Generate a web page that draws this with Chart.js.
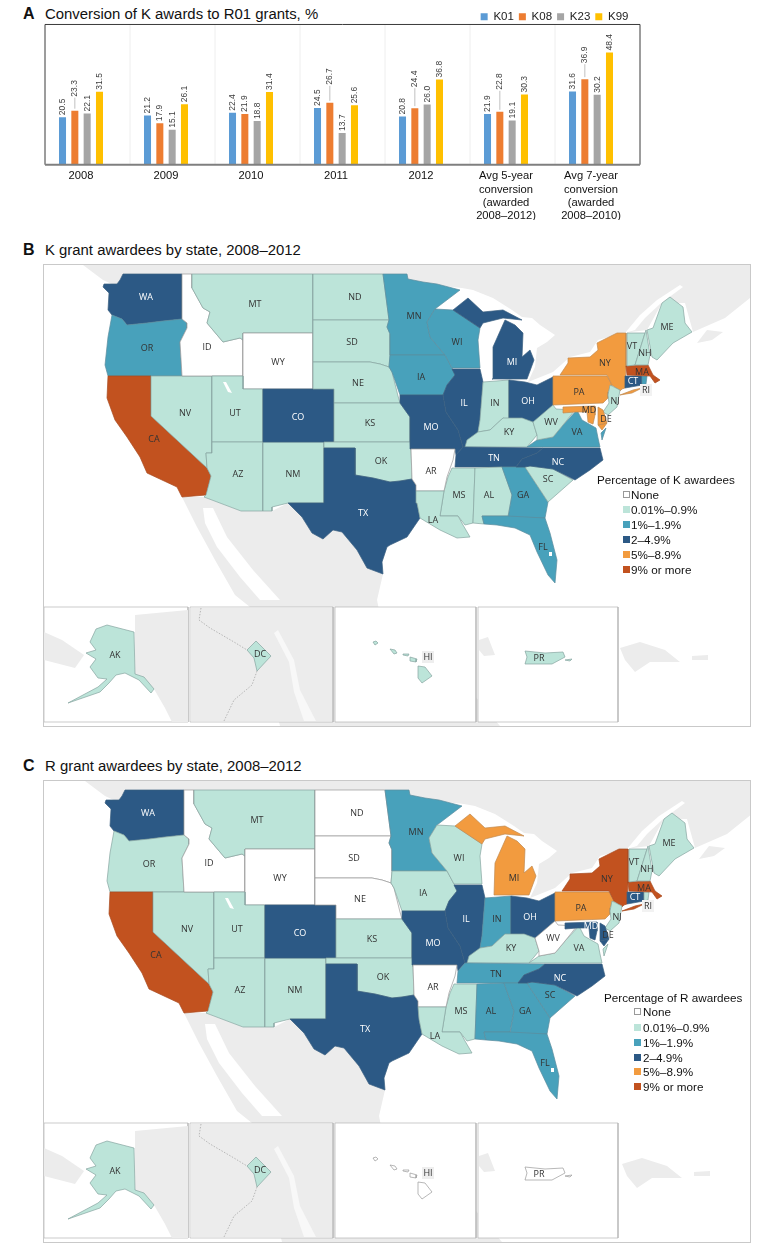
<!DOCTYPE html>
<html>
<head>
<meta charset="utf-8">
<script src="https://cdn.jsdelivr.net/npm/chart.js@4"></script>
<style>
  html, body { margin: 0; background: #fff; }
  #page { position: relative; width: 766px; height: 1251px; overflow: hidden; font-family: "Liberation Sans", sans-serif; color: #111; }
  canvas { position: absolute; }
  .letter { position: absolute; left: 23px; font-weight: bold; font-size: 16px; line-height: 18px; }
  .title { position: absolute; left: 45px; font-size: 14.9px; line-height: 18px; white-space: nowrap; }
  .frame { position: absolute; left: 43px; width: 706px; border: 1.5px solid #c9c9c9; box-sizing: content-box; pointer-events: none; }
  .legend { position: absolute; font-size: 11.7px; line-height: 15px; white-space: nowrap; }
  .legend div { position: absolute; white-space: nowrap; }
  .legend i { position: absolute; width: 7px; height: 7px; box-sizing: border-box; }
</style>
</head>
<body>
<div id="page">
  <div class="letter" style="top:5px">A</div>
  <div class="title" style="top:5px">Conversion of K awards to R01 grants, %</div>
  <canvas id="barChart" width="766" height="226" style="left:0;top:0"></canvas>

  <div class="letter" style="top:241px">B</div>
  <div class="title" style="top:241px">K grant awardees by state, 2008–2012</div>
  <canvas id="mapK" width="706" height="461" style="left:44px;top:265px"></canvas>
  <div class="frame" style="top:264px;height:461px"></div>
  <div class="legend" id="legendK" style="left:597px;top:472px"></div>

  <div class="letter" style="top:757px">C</div>
  <div class="title" style="top:757px">R grant awardees by state, 2008–2012</div>
  <canvas id="mapR" width="706" height="461" style="left:44px;top:781px"></canvas>
  <div class="frame" style="top:780px;height:461px"></div>
  <div class="legend" id="legendR" style="left:604px;top:990px"></div>
</div>

<script>
const categories = ['2008', '2009', '2010', '2011', '2012',
    ['Avg 5-year', 'conversion', '(awarded', '2008–2012)'],
    ['Avg 7-year', 'conversion', '(awarded', '2008–2010)']];
const k01 = [20.5, 21.2, 22.4, 24.5, 20.8, 21.9, 31.6];
const k08 = [23.3, 17.9, 21.9, 26.7, 24.4, 22.8, 36.9];
const k23 = [22.1, 15.1, 18.8, 13.7, 26.0, 19.1, 30.2];
const k99 = [31.5, 26.1, 31.4, 25.6, 36.8, 30.3, 48.4];

const levelNames = ['None', '0.01%–0.9%', '1%–1.9%', '2–4.9%', '5%–8.9%', '9% or more'];
const levelColors = ['#ffffff', '#bce4d9', '#48a1bb', '#2c5985', '#f29b3f', '#c2521f'];
const levelBorders = ['#999999', '#86a5a0', '#5b8c9e', '#3a5f80', '#c08a50', '#a84a20'];

const stateNames = ['WA', 'OR', 'CA', 'NV', 'ID', 'MT', 'WY', 'UT', 'AZ', 'NM', 'CO', 'ND', 'SD', 'NE', 'KS', 'OK', 'TX',
    'MN', 'IA', 'WI', 'MO', 'IL', 'IN', 'MI', 'OH', 'KY', 'TN', 'MS', 'AL', 'GA', 'FL', 'SC', 'NC', 'VA', 'WV', 'AR', 'LA',
    'PA', 'NY', 'NJ', 'CT', 'RI', 'MA', 'VT', 'NH', 'ME', 'MD', 'DE', 'AK', 'DC', 'HI', 'PR'];
const kLevels = [3, 2, 5, 1, 0, 1, 0, 1, 1, 1, 3, 1, 1, 1, 1, 1, 3,
    2, 2, 2, 3, 3, 1, 3, 3, 1, 3, 1, 1, 2, 2, 1, 3, 2, 1, 0, 1,
    4, 4, 1, 3, 2, 5, 1, 1, 1, 4, 4, 1, 1, 1, 1];
const rLevels = [3, 1, 5, 1, 0, 1, 0, 1, 1, 1, 3, 0, 0, 0, 1, 1, 3,
    2, 1, 1, 3, 3, 2, 4, 3, 1, 2, 1, 2, 2, 2, 2, 3, 1, 0, 0, 1,
    4, 5, 1, 3, 1, 5, 1, 1, 1, 3, 3, 1, 1, 0, 0];

// outlines, one list of rings per state
const stateRings = {
    WA: [[[123,274],[182,274],[182,319],[163,321],[147,323],[127,325],[122,319],[112,315],[108,310],[109,293],[103,287],[104,284],[117,284],[120,280]]],
    OR: [[[112,315],[122,319],[127,325],[147,323],[163,321],[182,319],[187,323],[187,328],[180,342],[182,376],[108,376],[105,365],[108,337]]],
    CA: [[[108,376],[151,376],[151,416],[207,468],[211,476],[206,495],[182,497],[177,487],[147,473],[140,457],[127,437],[115,420],[107,398]]],
    NV: [[[151,376],[212,376],[212,453],[206,453],[207,468],[151,416]]],
    ID: [[[182,274],[192,274],[192,288],[203,308],[210,312],[207,323],[223,342],[240,338],[243,340],[243,376],[182,376],[180,342],[187,328],[187,323],[182,319]]],
    MT: [[[192,274],[313,274],[313,333],[243,333],[243,340],[240,338],[223,342],[207,323],[210,312],[203,308],[192,288]]],
    WY: [[[243,333],[313,333],[313,389],[243,389]]],
    UT: [[[212,376],[243,376],[243,389],[263,389],[263,442],[212,442]]],
    AZ: [[[212,442],[263,442],[263,511],[241,511],[204,497],[206,495],[211,476],[207,468],[206,453],[212,453]]],
    NM: [[[263,442],[324,442],[324,503],[288,503],[272,507],[272,511],[263,511]]],
    CO: [[[263,389],[334,389],[334,442],[263,442]]],
    ND: [[[313,274],[383,274],[386,297],[389,320],[313,320]]],
    SD: [[[313,320],[389,320],[387,327],[390,334],[390,355],[389,367],[380,364],[370,362],[313,362]]],
    NE: [[[313,362],[370,362],[380,364],[389,367],[392,372],[398,396],[400,403],[334,403],[334,389],[313,389]]],
    KS: [[[334,403],[400,403],[405,410],[410,417],[410,442],[334,442]]],
    OK: [[[324,442],[410,442],[411,451],[412,479],[400,481],[390,482],[373,478],[355,475],[355,448],[324,448]]],
    TX: [[[324,448],[355,448],[355,475],[373,478],[390,482],[400,481],[412,479],[416,485],[417,503],[420,518],[407,537],[390,545],[387,547],[382,562],[383,574],[367,568],[357,550],[342,532],[333,530],[323,539],[312,533],[302,517],[288,503],[324,503]]],
    MN: [[[383,274],[407,274],[408,279],[423,282],[437,284],[460,290],[435,309],[427,322],[430,337],[445,355],[390,355],[390,334],[387,327],[389,320],[386,297]]],
    IA: [[[390,355],[445,355],[452,368],[455,375],[447,385],[443,395],[400,395],[392,372],[389,367]]],
    WI: [[[435,309],[453,310],[480,328],[478,340],[480,368],[452,368],[445,355],[430,337],[427,322]]],
    MO: [[[400,395],[443,395],[446,412],[458,430],[463,447],[456,455],[455,449],[410,449],[410,417],[405,410],[400,403]]],
    IL: [[[452,369],[480,369],[483,382],[480,420],[478,432],[465,447],[463,447],[458,430],[446,412],[443,395],[447,385],[455,375]]],
    IN: [[[483,382],[509,380],[509,420],[503,418],[490,430],[478,432],[480,420]]],
    MI: [[[492,379],[493,347],[505,320],[515,325],[523,333],[522,357],[530,350],[534,360],[527,379]],
         [[453,310],[468,298],[483,312],[503,310],[522,320],[503,318],[483,323],[480,328]]],
    OH: [[[509,380],[525,382],[537,385],[553,377],[553,405],[533,423],[522,418],[509,420]]],
    KY: [[[465,447],[467,440],[478,432],[490,430],[503,418],[522,418],[533,422],[537,435],[527,447]]],
    TN: [[[456,455],[463,447],[543,448],[537,453],[522,459],[516,467],[455,467]]],
    MS: [[[444,491],[448,477],[452,468],[475,468],[473,523],[465,525],[458,516],[440,516]]],
    AL: [[[475,468],[502,467],[512,495],[508,516],[482,516],[484,524],[473,523]]],
    GA: [[[502,467],[525,467],[548,502],[545,518],[508,518],[512,495]]],
    FL: [[[482,516],[508,516],[545,518],[550,533],[557,560],[555,583],[548,575],[537,552],[530,535],[515,528],[497,525],[484,524]]],
    SC: [[[525,467],[530,466],[553,469],[573,480],[548,502]]],
    NC: [[[543,448],[600,448],[603,460],[590,470],[575,480],[553,469],[530,466],[525,467],[516,467],[522,459],[537,453]]],
    VA: [[[527,447],[537,440],[553,437],[563,425],[577,410],[582,420],[596,428],[598,438],[600,447]],
         [[601,433],[606,428],[602,440]]],
    WV: [[[533,422],[553,405],[556,409],[575,410],[563,425],[553,437],[537,440],[537,435]]],
    AR: [[[411,449],[455,449],[453,460],[447,477],[444,491],[416,491],[416,485],[412,479]]],
    LA: [[[416,491],[444,491],[440,516],[458,516],[463,525],[470,537],[457,538],[440,530],[420,518],[417,503]]],
    PA: [[[553,376],[562,376],[607,376],[612,385],[608,392],[608,398],[603,403],[553,405]]],
    NY: [[[617,333],[626,333],[626,367],[625,388],[622,389],[620,391],[612,385],[607,375],[560,375],[568,363],[568,358],[590,357],[598,350],[597,343]],
         [[620,395],[633,390],[642,388],[632,393]]],
    NJ: [[[610,385],[620,390],[617,407],[608,415],[603,412],[609,403],[608,395]]],
    CT: [[[625,376],[642,376],[642,385],[625,388]]],
    RI: [[[642,376],[647,376],[646,384],[642,385]]],
    MA: [[[626,366],[648,365],[653,375],[660,380],[655,383],[650,376],[627,375]]],
    VT: [[[627,333],[645,333],[635,365],[627,366]]],
    NH: [[[646,330],[650,355],[648,365],[635,365]]],
    ME: [[[647,330],[653,328],[662,303],[670,297],[683,307],[685,323],[692,332],[673,343],[657,360],[652,357]]],
    MD: [[[563,407],[595,406],[595,415],[593,424],[588,422],[587,412],[575,412],[563,413]],
         [[598,425],[607,423],[602,430]]],
    DE: [[[598,407],[603,410],[607,423],[598,425]]],
    AK: [[[107,625],[134,632],[135,674],[144,677],[154,689],[151,693],[139,680],[125,673],[116,675],[109,683],[100,692],[68,703],[98,687],[107,679],[98,678],[90,667],[96,659],[86,653],[96,650],[90,642],[96,629]]],
    DC: [[[256,641],[271,656],[257,671],[254,658],[247,650]]],
    HI: [[[418,666],[425,667],[432,676],[422,683],[418,678]],
         [[410,657],[417,659],[416,662],[410,661]],
         [[390,649],[395,650],[397,653],[394,654]],
         [[373,642],[376,641],[378,643],[375,645]],
         [[403,654],[409,654],[408,656],[403,655]]],
    PR: [[[525,651],[545,653],[563,652],[565,657],[552,664],[525,664],[527,657]],
         [[565,660],[572,659],[570,661]]]
};
const labelX = [146, 147, 154, 185, 207, 255, 278, 235, 238, 293, 298, 355, 352, 358, 370, 381, 363,
    414, 421, 457, 431, 464, 495, 512, 528, 509, 494, 459, 489, 523, 543, 548, 558, 577, 551, 431, 433,
    579, 605, 615, 633, 646, 642, 632, 645, 667, 589, 606, 115, 260, 428, 539];
const labelY = [297, 348, 439, 413, 347, 304, 362, 413, 474, 474, 417, 297, 342, 383, 423, 461, 513,
    316, 377, 342, 427, 403, 403, 362, 401, 432, 458, 495, 495, 495, 547, 479, 462, 432, 422, 471, 520,
    392, 363, 401, 381, 390, 372, 346, 353, 327, 410, 419, 655, 654, 657, 658];

// grey land behind the states, then the water cut out of it
const landRings = [
    [[83,265],[750,265],[750,298],[725,318],[693,332],[685,303],[662,303],[647,330],[623,333],[598,340],[590,352],[570,357],[553,372],[528,382],[535,367],[537,348],[547,342],[555,335],[540,325],[532,318],[522,317],[512,310],[493,298],[473,290],[462,288],[383,280],[120,288],[103,280]],
    [[697,343],[707,330],[723,332],[712,340]],
    [[182,497],[204,497],[241,511],[272,511],[288,503],[302,517],[312,533],[323,539],[333,530],[342,532],[357,550],[367,568],[383,574],[377,600],[385,640],[440,670],[470,690],[500,726],[280,726],[250,607],[235,595],[215,560],[197,527]],
    [[620,648],[640,642],[665,650],[680,662],[650,662],[635,672],[625,660]],
    [[692,656],[708,655],[708,660],[692,660]]
];
const seaRings = [
    [[203,508],[213,508],[227,537],[253,570],[280,600],[260,600],[240,577],[217,547],[205,523]],
    [[625,333],[640,315],[657,300],[680,285],[683,287],[660,304],[645,318],[635,330]]
];
const lakeRings = [
    [[223,382],[226,382],[232,393],[228,392]],
    [[549,552],[552,552],[552,556],[549,556]]
];
// inset boxes and their surroundings
const insetBoxes = [
    [[44,607],[188,607],[188,722],[44,722]],
    [[190,607],[333,607],[333,722],[190,722]],
    [[335,607],[476,607],[476,722],[335,722]],
    [[478,607],[618,607],[618,722],[478,722]]
];
const insetLand = [
    [[135,615],[188,610],[188,722],[172,722],[165,708],[154,689],[135,674]],
    [[44,632],[62,640],[84,655],[75,668],[44,660]],
    [[191,608],[332,608],[332,721],[191,721]],
    [[479,640],[488,637],[495,655],[484,656],[479,650]]
];
const insetWater = [
    [[278,630],[294,660],[300,690],[316,721],[304,721],[294,692],[289,662],[274,633]]
];
const dcBorder = [
    [[201,608],[199,620],[210,628],[234,642],[247,650]],
    [[257,671],[252,685],[234,700],[224,721]]
];

function toPoints(ring) {
    return ring.concat([ring[0]]).map(p => ({x: p[0], y: p[1]}));
}

function ringDataset(ring, color, border, axis) {
    return {
        data: toPoints(ring),
        showLine: true,
        fill: 'shape',
        backgroundColor: color,
        borderColor: border,
        borderWidth: border === 'transparent' ? 0 : 0.7,
        pointRadius: 0,
        pointHoverRadius: 0,
        tension: 0,
        xAxisID: axis,
        yAxisID: 'y'
    };
}

function dottedDataset(line) {
    return {
        data: line.map(p => ({x: p[0], y: p[1]})),
        showLine: true,
        fill: false,
        borderColor: '#a8a8a8',
        borderWidth: 0.8,
        borderDash: [1.5, 1.5],
        pointRadius: 0,
        xAxisID: 'xi',
        yAxisID: 'y'
    };
}

const insetStates = ['AK', 'DC', 'HI', 'PR'];
const boxedLabels = {HI: '#eeeeee', RI: '#f2f2f2'};

function buildMap(id, levels, xMin) {
    const bottomUp = [];
    landRings.forEach(r => bottomUp.push(ringDataset(r, '#ececec', 'transparent', 'x')));
    seaRings.forEach(r => bottomUp.push(ringDataset(r, '#ffffff', 'transparent', 'x')));
    insetBoxes.forEach(r => bottomUp.push(ringDataset(r, '#ffffff', '#b5b5b5', 'xi')));
    insetLand.forEach(r => bottomUp.push(ringDataset(r, '#ececec', 'transparent', 'xi')));
    insetWater.forEach(r => bottomUp.push(ringDataset(r, '#f8f8f8', 'transparent', 'xi')));
    dcBorder.forEach(l => bottomUp.push(dottedDataset(l)));
    stateNames.forEach((name, i) => {
        const axis = insetStates.includes(name) ? 'xi' : 'x';
        stateRings[name].forEach(r => bottomUp.push(ringDataset(r, levelColors[levels[i]], levelBorders[levels[i]], axis)));
    });
    lakeRings.forEach(r => bottomUp.push(ringDataset(r, '#ffffff', 'transparent', 'x')));

    const stateLabels = {
        id: 'stateLabels',
        afterDatasetsDraw(chart) {
            const {ctx, scales} = chart;
            ctx.save();
            ctx.font = '9px "Open Sans"';
            ctx.textAlign = 'center';
            ctx.textBaseline = 'middle';
            stateNames.forEach((name, i) => {
                const xs = insetStates.includes(name) ? scales.xi : scales.x;
                const px = xs.getPixelForValue(labelX[i]);
                const py = scales.y.getPixelForValue(labelY[i]);
                if (boxedLabels[name]) {
                    ctx.fillStyle = boxedLabels[name];
                    ctx.fillRect(px - 6, py - 6, 12, 12);
                }
                ctx.fillStyle = levels[i] === 3 && name !== 'DE' ? '#ffffff' : '#333333';
                ctx.fillText(name, px, py);
            });
            ctx.restore();
        }
    };

    return new Chart(document.getElementById(id), {
        type: 'scatter',
        data: {datasets: bottomUp.reverse()},
        options: {
            responsive: false,
            animation: false,
            events: [],
            layout: {padding: 0},
            plugins: {legend: {display: false}, tooltip: {enabled: false}},
            scales: {
                x: {type: 'linear', display: false, min: xMin, max: xMin + 706},
                xi: {type: 'linear', display: false, min: 44, max: 750},
                y: {type: 'linear', display: false, min: 265, max: 726, reverse: true}
            }
        },
        plugins: [stateLabels]
    });
}

function buildLegend(id, title, swatchX, textX, rowY) {
    const box = document.getElementById(id);
    let html = '<div style="left:0;top:0">' + title + '</div>';
    levelNames.forEach((name, i) => {
        const border = i === 0 ? 'border:1px solid #999;' : '';
        html += '<i style="left:' + swatchX + 'px;top:' + (rowY[i] + 4) + 'px;background:' + levelColors[i] + ';' + border + '"></i>';
        html += '<div style="left:' + textX + 'px;top:' + rowY[i] + 'px">' + name + '</div>';
    });
    box.innerHTML = html;
}

// K08 labels that sit up on a leader line in the original
const k08Lift = [14, 2, 2, 18, 21, 22, 16];

const barFurniture = {
    id: 'barFurniture',
    beforeDatasetsDraw(chart) {
        const {ctx, scales: {x, y}} = chart;
        const left = x.left + 6.5, right = x.right + 6.5;
        const top = y.getPixelForValue(60.5), bottom = y.getPixelForValue(0);
        ctx.save();
        ctx.strokeStyle = '#eeeeee';
        ctx.lineWidth = 1;
        categories.forEach((c, i) => {
            if (i === 0) return;
            const sep = x.left + i * x.width / categories.length + 6.5;
            ctx.beginPath();
            ctx.moveTo(sep, top);
            ctx.lineTo(sep, bottom);
            ctx.stroke();
        });
        ctx.strokeStyle = '#3a3a3a';
        ctx.beginPath();
        ctx.moveTo(left, bottom);
        ctx.lineTo(left, top);
        ctx.lineTo(right, top);
        ctx.lineTo(right, bottom);
        ctx.stroke();
        ctx.restore();
    },
    afterDatasetsDraw(chart) {
        const {ctx, scales: {x, y}} = chart;
        const bottom = y.getPixelForValue(0);
        ctx.save();
        ctx.strokeStyle = '#7f7f7f';
        ctx.lineWidth = 2;
        ctx.beginPath();
        ctx.moveTo(x.left + 6.5, bottom);
        ctx.lineTo(x.right + 6.5, bottom);
        ctx.stroke();
        chart.data.datasets.forEach((ds, d) => {
            const meta = chart.getDatasetMeta(d);
            ds.data.forEach((v, i) => {
                const bar = meta.data[i];
                const lift = d === 1 ? k08Lift[i] : 2;
                if (lift > 2) {
                    ctx.strokeStyle = '#b0b0b0';
                    ctx.lineWidth = 0.8;
                    ctx.beginPath();
                    ctx.moveTo(bar.x, bar.y - 2);
                    ctx.lineTo(bar.x, bar.y - lift + 1);
                    ctx.stroke();
                }
                ctx.save();
                ctx.translate(bar.x, bar.y - lift);
                ctx.rotate(-Math.PI / 2);
                ctx.font = '8.5px "Liberation Sans"';
                ctx.fillStyle = '#404040';
                ctx.textAlign = 'left';
                ctx.textBaseline = 'middle';
                ctx.fillText(v.toFixed(1), 0, 0);
                ctx.restore();
            });
        });
        ctx.restore();
    }
};

const seriesStyle = {categoryPercentage: 0.58, barPercentage: 0.57, borderWidth: 0};

new Chart(document.getElementById('barChart'), {
    type: 'bar',
    data: {
        labels: categories,
        datasets: [
            {label: 'K01', data: k01, backgroundColor: '#5b9bd5', ...seriesStyle},
            {label: 'K08', data: k08, backgroundColor: '#ed7d31', ...seriesStyle},
            {label: 'K23', data: k23, backgroundColor: '#a5a5a5', ...seriesStyle},
            {label: 'K99', data: k99, backgroundColor: '#ffc000', ...seriesStyle}
        ]
    },
    options: {
        responsive: false,
        animation: false,
        events: [],
        layout: {padding: {left: 38.5, right: 132.5, top: 6, bottom: 6}},
        plugins: {
            tooltip: {enabled: false},
            legend: {
                position: 'top',
                align: 'end',
                fullSize: false,
                labels: {
                    boxWidth: 7,
                    boxHeight: 7,
                    padding: 5,
                    color: '#222',
                    font: {family: '"Liberation Sans"', size: 11.5}
                }
            }
        },
        scales: {
            x: {
                grid: {display: false},
                border: {display: false},
                ticks: {
                    color: '#111',
                    padding: -3,
                    maxRotation: 0,
                    autoSkip: false,
                    font: {family: '"Liberation Sans"', size: 11.2, lineHeight: 1.19}
                }
            },
            y: {display: false, min: 0, max: 57.04}
        }
    },
    plugins: [barFurniture]
});

buildMap('mapK', kLevels, 44);
buildMap('mapR', rLevels, 42);
buildLegend('legendK', 'Percentage of K awardees', 26, 34, [15, 30, 45, 60, 75, 90]);
buildLegend('legendR', 'Percentage of R awardees', 30, 39, [14, 30, 45, 60, 74, 89]);
</script>
</body>
</html>
